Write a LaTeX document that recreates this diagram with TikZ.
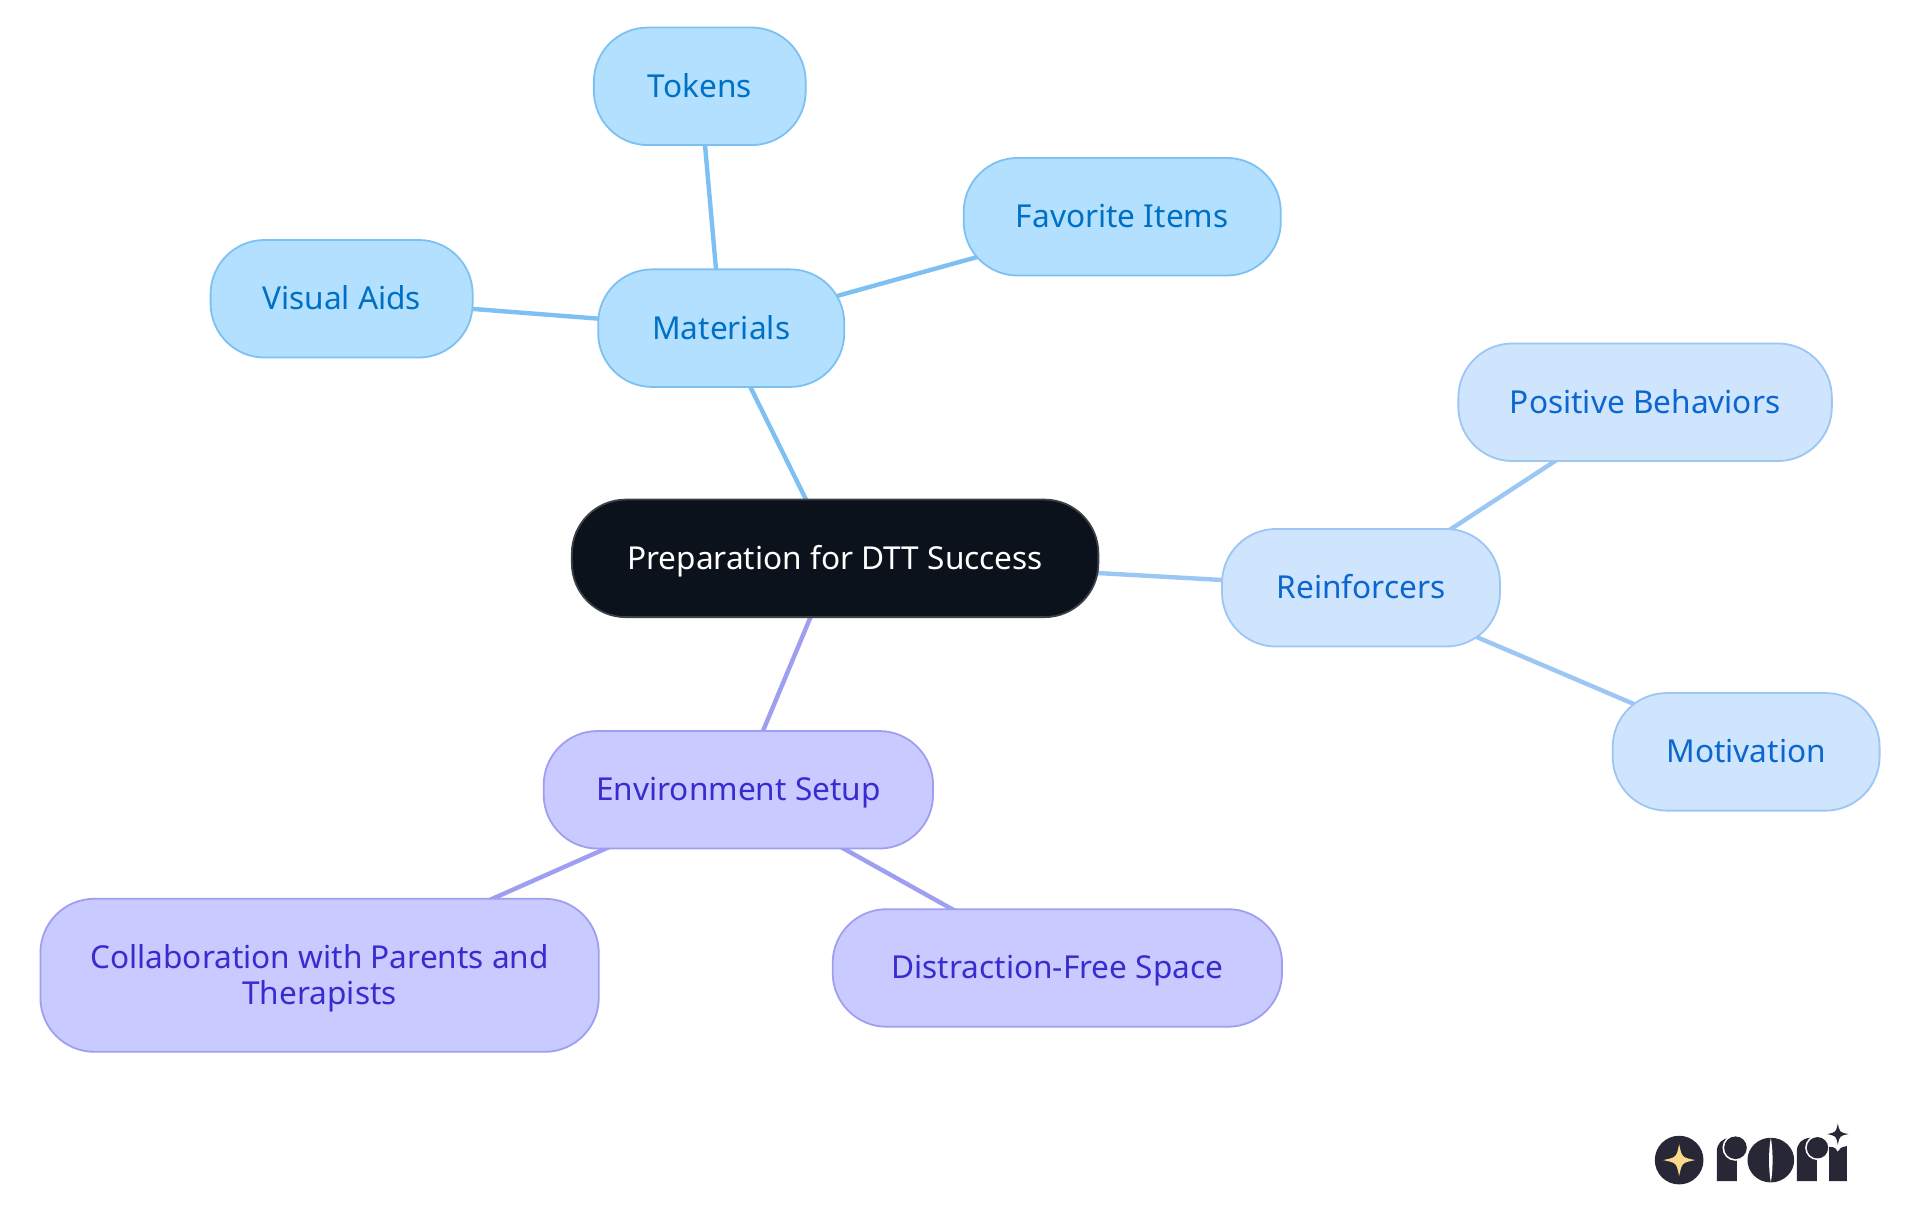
\documentclass[tikz,border=0pt]{standalone}
\usepackage{fontspec}
\setmainfont{Noto Sans}
\usetikzlibrary{backgrounds}
\definecolor{blueA}{HTML}{B3E0FF}
\definecolor{blueAl}{HTML}{7CC1F2}
\definecolor{blueAt}{HTML}{0070C4}
\definecolor{blueB}{HTML}{CFE4FD}
\definecolor{blueBl}{HTML}{9CC6F4}
\definecolor{blueBt}{HTML}{0B66D0}
\definecolor{violC}{HTML}{C9CAFF}
\definecolor{violCl}{HTML}{9F9FF2}
\definecolor{violCt}{HTML}{3A2BCF}
\definecolor{rootfill}{HTML}{0B121B}
\definecolor{rootline}{HTML}{3C4148}
\definecolor{logodark}{HTML}{282735}
\definecolor{logogold}{HTML}{FAD98A}
\tikzset{
  mapnode/.style={draw,line width=0.9pt,rounded corners=27pt,align=center,inner sep=0pt,
    text height=11.4pt,text depth=0.5pt,
    font=\fontsize{15.8}{17.8}\selectfont},
  rootnode/.style={mapnode,fill=rootfill,draw=rootline,text=white},
  matnode/.style={mapnode,fill=blueA,draw=blueAl,text=blueAt},
  renode/.style={mapnode,fill=blueB,draw=blueBl,text=blueBt},
  envnode/.style={mapnode,fill=violC,draw=violCl,text=violCt},
  twolines/.style={text height=29.2pt},
  matlink/.style={draw=blueAl,line width=2.2pt},
  relink/.style={draw=blueBl,line width=2.2pt},
  envlink/.style={draw=violCl,line width=2.2pt}
}
\newcommand{\ministar}[4]{% cx cy r colour
  \fill[#4] (#1,#2-#3) .. controls (#1+0.17*#3,#2-0.17*#3) .. (#1+#3,#2)
    .. controls (#1+0.17*#3,#2+0.17*#3) .. (#1,#2+#3)
    .. controls (#1-0.17*#3,#2+0.17*#3) .. (#1-#3,#2)
    .. controls (#1-0.17*#3,#2-0.17*#3) .. cycle;}
\begin{document}
\begin{tikzpicture}[x=0.6122pt,y=-0.6122pt]
\useasboundingbox (0,0) rectangle (1568,992.25);
\newcommand{\mnode}[8]{\node[#1,minimum width=#6*0.6122pt,minimum height=#7*0.6122pt] (#2) at (#3,#4) {#8};}
\mnode{rootnode}{root}{682}{456}{}{430}{96}{Preparation for DTT Success}
\mnode{matnode}{mat}{589}{268}{}{201}{96}{Materials}
\mnode{matnode}{tok}{571.5}{70.5}{}{173}{96}{Tokens}
\mnode{matnode}{fav}{916.5}{177}{}{259}{96}{Favorite Items}
\mnode{matnode}{vis}{279}{244}{}{214}{96}{Visual Aids}
\mnode{renode}{rei}{1111.5}{480}{}{227}{96}{Reinforcers}
\mnode{renode}{pos}{1343.5}{328.5}{}{305}{96}{Positive Behaviors}
\mnode{renode}{mot}{1426}{614}{}{218}{96}{Motivation}
\mnode{envnode}{env}{603}{645}{}{318}{96}{Environment Setup}
\mnode{envnode,twolines}{col}{261}{796.5}{}{456}{125}{Collaboration with Parents and\\Therapists}
\mnode{envnode}{dis}{863.5}{790.5}{}{367}{96}{Distraction-Free Space}
\begin{pgfonlayer}{background}
\fill[white] (0,0) rectangle (1568,992.25);
\draw[matlink] (root.center) -- (mat.center);
\draw[matlink] (mat.center) -- (tok.center);
\draw[matlink] (mat.center) -- (fav.center);
\draw[matlink] (mat.center) -- (vis.center);
\draw[relink] (root.center) -- (rei.center);
\draw[relink] (rei.center) -- (pos.center);
\draw[relink] (rei.center) -- (mot.center);
\draw[envlink] (root.center) -- (env.center);
\draw[envlink] (env.center) -- (col.center);
\draw[envlink] (env.center) -- (dis.center);
\end{pgfonlayer}
% logo, in units of the zoomed crop
\begin{scope}[shift={(810pt,-550pt)},x=0.16667pt,y=-0.16667pt]
\fill[logodark] (177,180) circle (73);
\ministar{177}{180}{48}{logogold}
% first r
\fill[logodark] (290,243) -- (290,155) .. controls (290,130) and (305,115) .. (330,113) -- (350,150) -- (350,243) -- cycle;
\fill[white] (346,143) circle (39);
\fill[logodark] (346,143) circle (34);
% o
\fill[logodark] (452,180) ellipse (70 and 67);
\fill[white] (452,113) .. controls (445,150) and (445,210) .. (452,247) .. controls (459,210) and (459,150) .. (452,113) -- cycle;
% second r
\fill[logodark] (530,243) -- (530,155) .. controls (530,130) and (545,115) .. (570,113) -- (590,150) -- (590,243) -- cycle;
\fill[white] (592,143) circle (37);
\fill[logodark] (592,143) circle (32);
% i
\fill[logodark] (627,243) -- (627,140) .. controls (645,140) and (650,148) .. (653,155) .. controls (656,148) and (662,140) .. (680,138) -- (680,243) -- cycle;
\ministar{653}{102}{32}{logodark}
\end{scope}
\end{tikzpicture}
\end{document}
